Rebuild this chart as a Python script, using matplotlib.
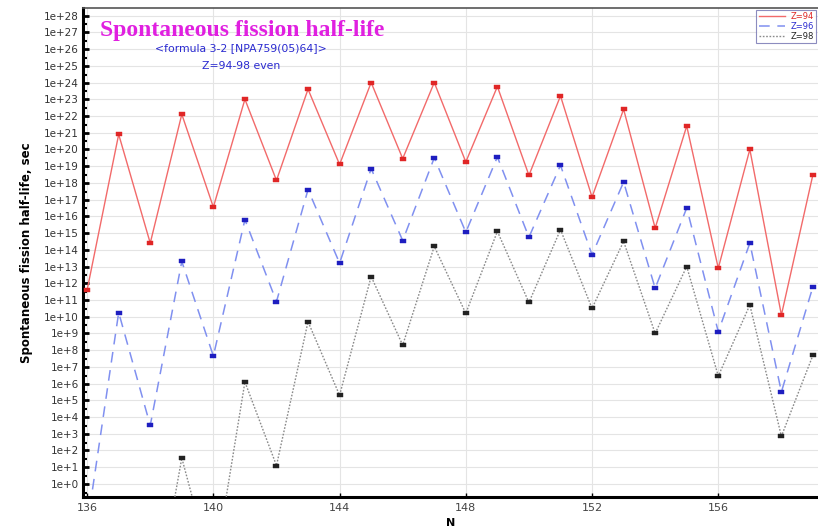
import numpy as np
import matplotlib
matplotlib.use("Agg")
import matplotlib.pyplot as plt
from matplotlib.ticker import FixedLocator, FuncFormatter, LogLocator, NullFormatter

# Spontaneous fission half-lives (log10 of seconds) vs neutron number N
n_z94 = list(range(136, 160))
log_t_z94 = [11.6, 20.9, 14.4, 22.1, 16.55, 23.0, 18.15, 23.6, 19.1, 24.0, 19.45, 24.0,
             19.25, 23.76, 18.45, 23.2, 17.15, 22.4, 15.3, 21.4, 12.9, 20.0, 10.1, 18.5]

n_z96 = list(range(136, 160))
log_t_z96 = [-2.5, 10.25, 3.5, 13.3, 7.65, 15.8, 10.9, 17.6, 13.2, 18.85, 14.55, 19.5,
             15.05, 19.55, 14.75, 19.05, 13.7, 18.05, 11.7, 16.5, 9.1, 14.4, 5.5, 11.8]

n_z98 = list(range(138, 160))
log_t_z98 = [-9.0, 1.55, -5.5, 6.1, 1.1, 9.7, 5.3, 12.4, 8.3, 14.2,
             10.2, 15.1, 10.85, 15.2, 10.5, 14.5, 9.0, 13.0, 6.45, 10.7, 2.85, 7.7]

x_ticks = [136, 140, 144, 148, 152, 156]
y_decades = list(range(0, 29))

# small flat rectangle used as the point marker
rect_marker = [(-1.5, -0.85), (1.5, -0.85), (1.5, 0.85), (-1.5, 0.85), (-1.5, -0.85)]

fig = plt.figure(figsize=(8.18, 5.32), dpi=100)
ax = fig.add_axes([0.1015, 0.0658, 0.8985, 0.919])

series = [
    (n_z94, log_t_z94, "Z=94", dict(color="#f26a6a", linestyle="-", linewidth=1.0), "#e02626"),
    (n_z96, log_t_z96, "Z=96", dict(color="#8090f0", linestyle=(0, (7, 5)), linewidth=1.1), "#1e1ec0"),
    (n_z98, log_t_z98, "Z=98", dict(color="#8a8a8a", linestyle=(0, (1.2, 1.2)), linewidth=1.0), "#222222"),
]
for n_vals, logs, label, style, mcol in series:
    vals = 10.0 ** np.array(logs)
    ax.plot(n_vals, vals, label=label, zorder=3, **style)
    ax.plot(n_vals, vals, linestyle="none", marker=rect_marker, markersize=5,
            markerfacecolor=mcol, markeredgecolor=mcol, markeredgewidth=0.3, zorder=4)

ax.set_yscale("log")
ax.set_xlim(135.87, 159.16)
ax.set_ylim(10 ** -0.78, 10 ** 28.45)

ax.yaxis.set_major_locator(FixedLocator([10.0 ** d for d in y_decades]))
ax.yaxis.set_major_formatter(FuncFormatter(lambda v, p: f"1e+{int(round(np.log10(v)))}"))
ax.yaxis.set_minor_locator(LogLocator(base=10, subs=(3.0,), numticks=60))
ax.yaxis.set_minor_formatter(NullFormatter())
ax.xaxis.set_major_locator(FixedLocator(x_ticks))
ax.xaxis.set_minor_locator(FixedLocator([]))

ax.tick_params(axis="y", which="major", direction="in", length=4, width=2.0,
               labelsize=7.5, colors="black", labelcolor="#333333", pad=3)
ax.tick_params(axis="y", which="minor", direction="in", length=3, width=1.5, colors="black")
ax.tick_params(axis="x", which="major", direction="in", length=3, width=1,
               labelsize=8, labelcolor="#444444", pad=4)

ax.grid(True, which="major", axis="both", color="#e4e4e4", linewidth=0.8)
ax.set_axisbelow(True)

ax.spines["left"].set_linewidth(2.2)
ax.spines["bottom"].set_linewidth(2.2)
ax.spines["top"].set_linewidth(1.2)
ax.spines["top"].set_color("#555555")
ax.spines["right"].set_visible(False)

ax.set_xlabel("N", fontsize=8, fontweight="bold", labelpad=4)
ax.set_ylabel("Spontaneous fission half-life, sec", fontsize=8.5, fontweight="bold", labelpad=8)

ax.text(0.023, 0.955, "Spontaneous fission half-life", transform=ax.transAxes,
        fontsize=17, fontweight="bold", family="Liberation Serif", color="#e020e0",
        ha="left", va="center")
ax.text(0.215, 0.918, "<formula 3-2 [NPA759(05)64]>", transform=ax.transAxes,
        fontsize=7.8, color="#2a2ad0", ha="center", va="center")
ax.text(0.215, 0.881, "Z=94-98 even", transform=ax.transAxes,
        fontsize=7.8, color="#2a2ad0", ha="center", va="center")

leg = ax.legend(loc="upper right", bbox_to_anchor=(1.0, 1.0), fontsize=6,
                handlelength=3.2, handletextpad=0.6, borderpad=0.3, labelspacing=0.1,
                frameon=True, fancybox=False, borderaxespad=0.2)
leg.get_frame().set_edgecolor("#7070b0")
leg.get_frame().set_linewidth(0.8)
for txt, col in zip(leg.get_texts(), ["#e02626", "#2a2ad0", "#222222"]):
    txt.set_color(col)

fig.savefig("out.png", dpi=100)
